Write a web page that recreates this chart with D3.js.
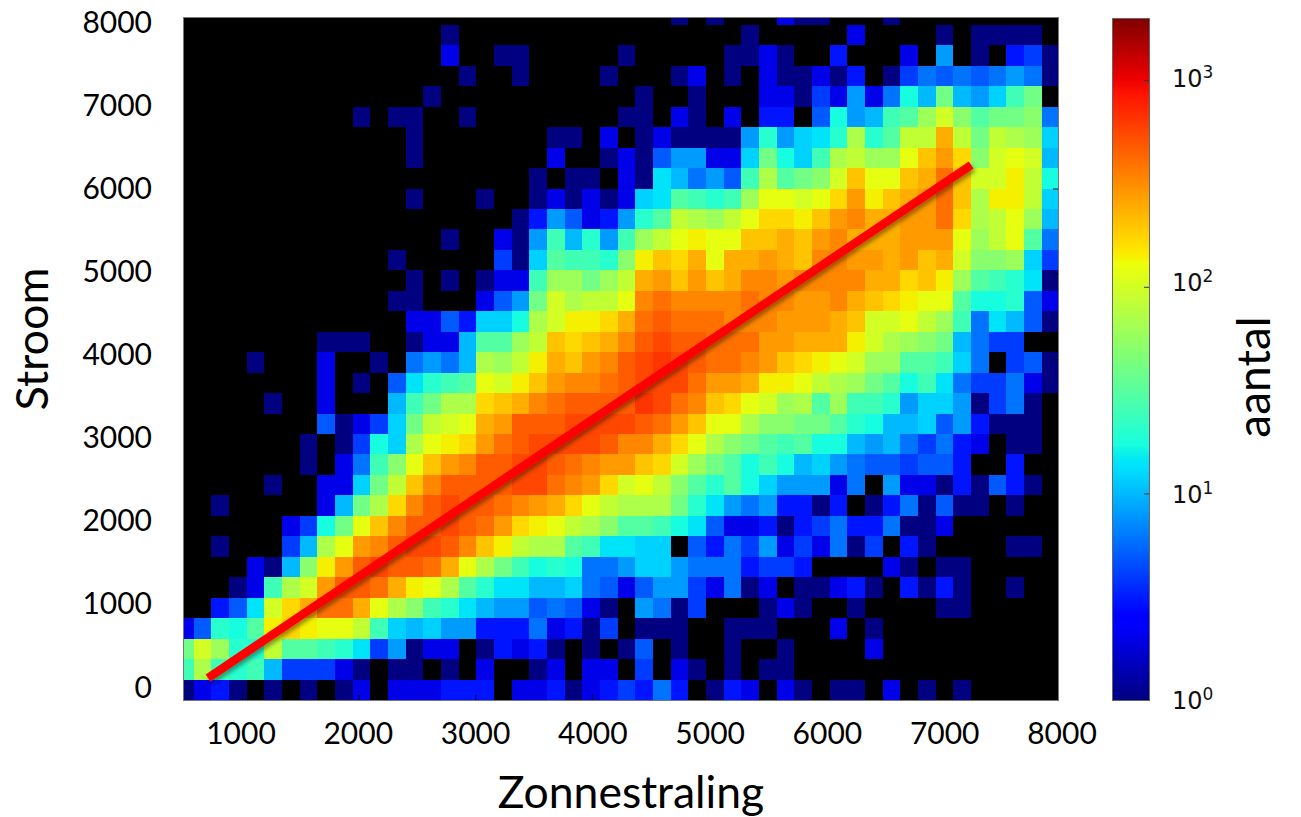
<!DOCTYPE html>
<html><head><meta charset="utf-8">
<script src="https://cdn.jsdelivr.net/npm/d3@7"></script>
<style>html,body{margin:0;padding:0;background:#fff}svg{display:block}</style>
</head><body><div id="chart"></div>
<script>
// Count for each letter used in the grid below ('.' = empty bin)
const levelCodes = ".abcdefghijklmnopqrstuvwxyzABCDE";
const levelCounts = [0,1,2,3,4,5,6,8,10,12,14,17,20,25,30,40,50,60,70,85,100,120,140,170,200,240,280,330,400,470,560,650];
// Bin counts, top row first; 50 columns, 34 rows
const gridRows = [
".......... .......... ........a. a...baa... a.........",
".......... .....a.... .......... ..a.....b. ...a.aaaa.",
".......... .....b..aa .....a.... .aaba..c.. .b.g.a.cda",
".......... ......a..a ....a...ab .a.baabac. adfefefgfa",
".......... ....a..... ......a..a ...bbadbgb fkhohgimo.",
".......... a.aa..a... .....aa.ba .b.cc.ekgh mnqtpnoopf",
".......... ...a...... .aa.b.abaa aaglgijlrl nssysosrqi",
".......... ...a...... .b..abaegg bbiokimrsq quxzwptuth",
".......... .......... a.aa.bajhf gemrnoptxu uxyBxttvsk",
".......... ...a...a.. abababijnm lmquutuwzv xyzBxrvvsi",
".......... .........a cgebcglnsr qsuwwvxzAy yzzBwrsuqh",
".......... .....a..ba gmhlgmqsuv uuxxyxzAyy yzzzuqsunf",
".......... ..a.....da inmmlpvxwy uyyzyxAAzz yzxytppqid",
".......... ...a.a.abb mqqoqsyzxz xyAAzAAAAy ywxvqnmlja",
".......... ..aa...beg otrssuABAA AABAAzzAyx wvuunkkleb",
".......... ...bbeciik rtvvwyBCBB BAAAzzzyxt tusqmfjhea",
"........aa a..abbhnnq sxwxyACDCC BBBzzyyyvt rqpohfdd..",
"....a...b. .a.fgfhrqs vyxzACDEDC BBAzxwvutq qnnmif.dea",
"........b. a.ejlmnutv xzAABCDDDB zzyvvusrqo nkmjfddfba",
".....a..b. ..hmorrwxy ABCCCCEDBA xwutqrnqmm lgiigadfa.",
"........ea bdiostuyzC CCDDDDCBzx uurppoonlk hhiegcaaa.",
".......a.a dkiruvwzBC DDDDCAAywu rponmnkkhg hfdfcb.aa.",
".......a.b fmpuxzACCD DCBAzzxwtq onkmkhigfe edeec..c..",
".....a..bb iosxACCCCD DBAzwtuspn lnkigggbf. gbbacaeca.",
"..a.....bh orwACDCCBA zywusrrrol jgfgccac.a cfaeaa.a..",
"......bdko uxACCDCBzw vusrpnnmkj ebbcacdfcc faab......",
"..a...dhru zACDDCAxvs rrnmjjii.e cfdgbdbfad .ca....aa.",
"....bahpvz CDCCByurom klkffgiigf ffcddc.... ba.aa.....",
"...abmrtzC CByvurnljj hhifebeggd bfab.aabca .caca..a..",
"..cejtwyBB yurpmljhgg efeba.gfad ...aba..a. ...aa.....",
"belknvwvuu smihiggccc fbcad.aaa. .aaa...b.a ..........",
"otqllsnnml jdgabb.acb ca.a.ae.a. .a..a....b ..........",
"mrmlmhdddb a.aa.a.b.. ab.bb.d.ba .a.aa..... ..........",
"abca.a.a.a b.bbbccc.b bcabcdcfc. acb.ba.aa. b.a.a....."
];
const xTicks = [1000,2000,3000,4000,5000,6000,7000,8000];
const yTicks = [0,1000,2000,3000,4000,5000,6000,7000,8000];
const cbTicks = [1,10,100,1000];
const cbExponents = ["0","1","2","3"];
const fitLineX = [706,7255];
const fitLineY = [258,6276];

const W=1301,H=817;
const svg=d3.select("#chart").append("svg").attr("width",W).attr("height",H);
const defs=svg.append("defs");
const f=defs.append("filter").attr("id","shadow").attr("x","-5%").attr("y","-5%").attr("width","110%").attr("height","115%");
f.append("feDropShadow").attr("dx",2).attr("dy",3).attr("stdDeviation",2).attr("flood-color","#000").attr("flood-opacity",0.4);

const x=d3.scaleLinear([500,8000],[184,1058]);
const y=d3.scaleLinear([0,8000],[700,18]);
const xLabel=d3.scaleLinear([1000,8000],[241,1062]);
const yLabel=d3.scaleLinear([0,8000],[687,22]);
const jet=d3.scaleLinear()
 .domain([0,.11,.125,.34,.35,.375,.64,.65,.66,.89,.91,1])
 .range(["#000080","#0000ff","#0000ff","#00e0ff","#00e5f7","#18ffdd","#eeff09","#f5f000","#ffe600","#ff1200","#ee0000","#800000"]);
const norm=d3.scaleLog([1,2000],[0,1]);

// bin edges in data units
const colW=151.6,rowH=240,firstEdge=583;
const xEdge=i=>i===0?500:(i>=50?8000:firstEdge+(i-1)*colW);
const yEdge=k=>k>=34?8000:k*rowH;

const plot=svg.append("g");
plot.append("rect").attr("x",184).attr("y",18).attr("width",874).attr("height",682).attr("fill","#000");
const cells=[];
gridRows.forEach((r,ri)=>{
  const s=r.replace(/ /g,"");
  const k=gridRows.length-1-ri;
  for(let c=0;c<s.length;c++){
    const n=levelCounts[levelCodes.indexOf(s[c])];
    if(n>0)cells.push({c,k,n});
  }
});
plot.append("g").attr("shape-rendering","crispEdges").selectAll("rect").data(cells).join("rect")
 .attr("x",d=>x(xEdge(d.c))).attr("width",d=>x(xEdge(d.c+1))-x(xEdge(d.c)))
 .attr("y",d=>y(yEdge(d.k+1))).attr("height",d=>y(yEdge(d.k))-y(yEdge(d.k+1)))
 .attr("fill",d=>jet(norm(d.n)));

// small inward ticks
const xa=d3.axisBottom(x).tickValues(xTicks).tickSize(-5).tickFormat("");
const ya=d3.axisRight(y).tickValues(yTicks).tickSize(-5).tickFormat("");
const gx=svg.append("g").attr("transform","translate(0,700)").call(xa);
gx.select(".domain").remove();gx.selectAll("line").attr("stroke","#000");
const gy=svg.append("g").attr("transform","translate(1058,0)").call(ya);
gy.select(".domain").remove();gy.selectAll("line").attr("stroke","#000");
svg.append("rect").attr("x",183.5).attr("y",17.5).attr("width",875).attr("height",683).attr("fill","none").attr("stroke","#777").attr("stroke-width",1);

// fit line
const line=d3.line().x(d=>x(d[0])).y(d=>y(d[1]));
svg.append("path").datum(d3.zip(fitLineX,fitLineY)).attr("d",line)
 .attr("stroke","#ff0000").attr("stroke-width",8.5).attr("fill","none").attr("filter","url(#shadow)");

// labels
const font="Lato, Carlito, sans-serif";
svg.append("g").selectAll("text").data(xTicks).join("text")
 .attr("x",d=>xLabel(d)).attr("y",744).attr("text-anchor","middle")
 .attr("font-family",font).attr("font-size",30).attr("fill","#000").text(d=>d);
svg.append("g").selectAll("text").data(yTicks).join("text")
 .attr("x",152).attr("y",d=>yLabel(d)+10.5).attr("text-anchor","end")
 .attr("font-family",font).attr("font-size",30).attr("fill","#000").text(d=>d);
svg.append("text").attr("x",631).attr("y",808).attr("text-anchor","middle")
 .attr("font-family",font).attr("font-size",44.5).text("Zonnestraling");
svg.append("text").attr("transform","translate(48,339) rotate(-90)").attr("text-anchor","middle")
 .attr("font-family",font).attr("font-size",45).text("Stroom");
svg.append("text").attr("transform","translate(1270,377) rotate(-90)").attr("text-anchor","middle")
 .attr("font-family",font).attr("font-size",46).text("aantal");

// colour bar
const cb=d3.scaleLog([1,2000],[700,18]);
const cbG=svg.append("g").attr("shape-rendering","crispEdges");
cbG.selectAll("rect").data(d3.range(18,700)).join("rect")
 .attr("x",1112).attr("width",37).attr("y",d=>d).attr("height",1)
 .attr("fill",d=>jet(norm(cb.invert(d+0.5))));
const cbAxis=d3.axisRight(cb).tickValues(cbTicks).tickSize(-5).tickFormat("");
const gc=svg.append("g").attr("transform","translate(1149,0)").call(cbAxis);
gc.select(".domain").remove();gc.selectAll("line").attr("stroke","#333");
svg.append("rect").attr("x",1112.5).attr("y",18.5).attr("width",37).attr("height",682).attr("fill","none").attr("stroke","#666");
const cl=svg.append("g").selectAll("text").data(cbTicks).join("text")
 .attr("x",1172).attr("y",d=>cb(d)+(d===1?9:d===10?10:d===100?4:7))
 .attr("font-family","'DejaVu Sans',sans-serif").attr("font-size",24).attr("fill","#111");
cl.append("tspan").text("10");
cl.append("tspan").attr("dy",-9).attr("font-size",17).text((d,i)=>cbExponents[i]);
</script></body></html>
